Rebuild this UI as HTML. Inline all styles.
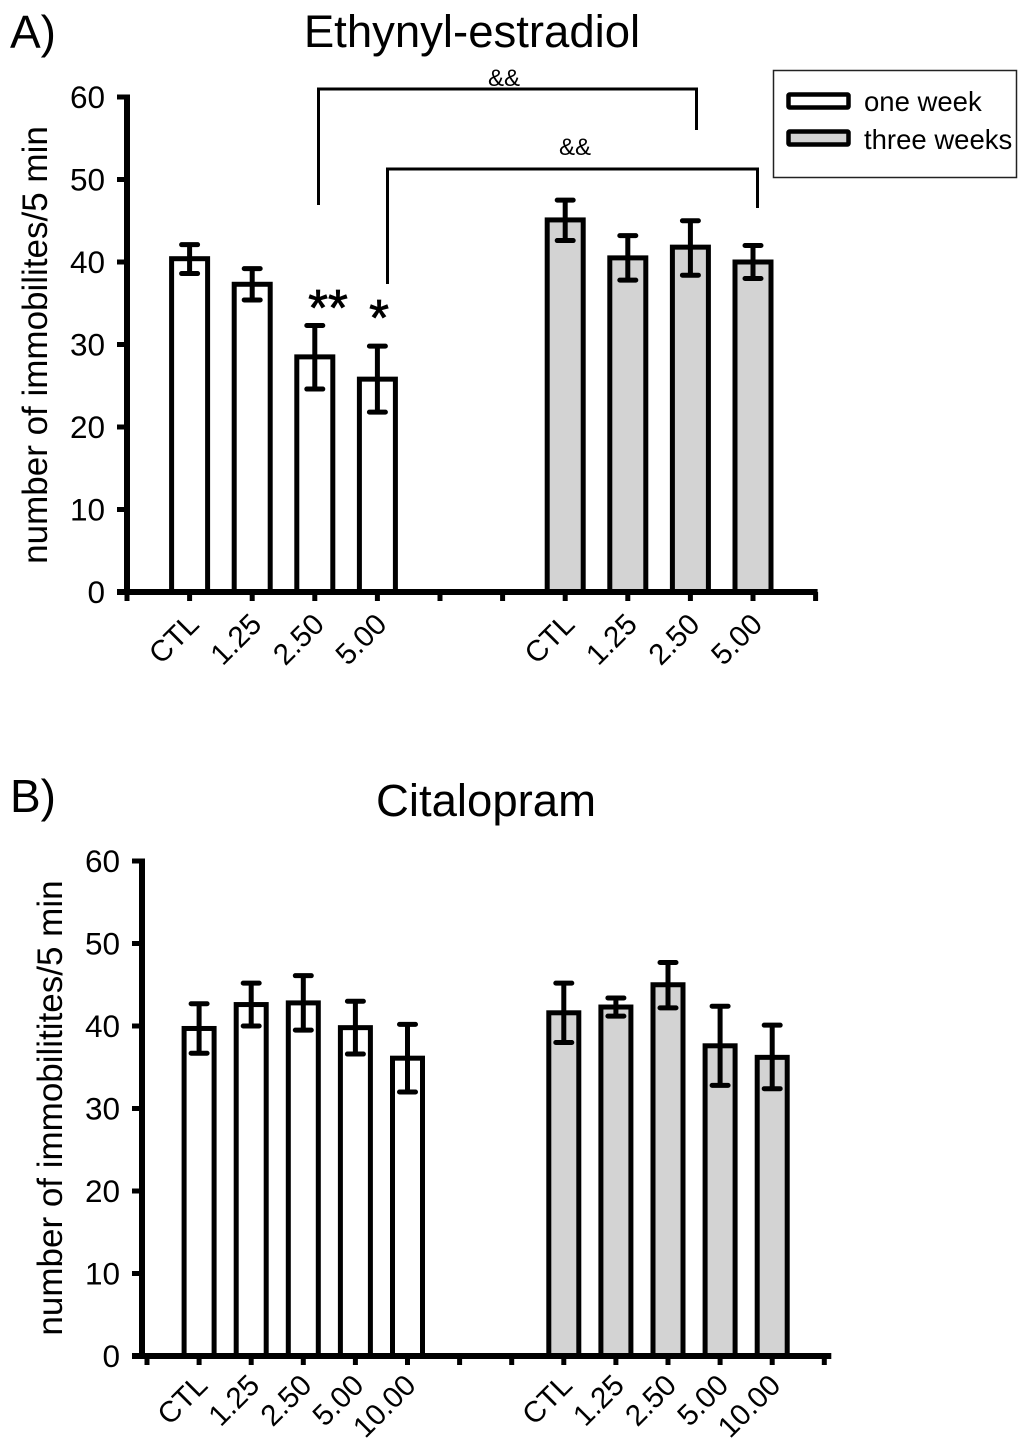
<!DOCTYPE html>
<html lang="en">
<head>
<meta charset="utf-8">
<title>Ethynyl-estradiol and Citalopram immobility charts</title>
<style>
html,body{margin:0;padding:0;background:#fff;}
svg{display:block;font-family:"Liberation Sans",sans-serif;fill:#000;}
</style>
</head>
<body>
<svg id="figure" width="1024" height="1443" viewBox="0 0 1024 1443" xmlns="http://www.w3.org/2000/svg">
<rect width="1024" height="1443" fill="#fff"/>
<g>
<rect x="773.5" y="70.5" width="243" height="107" fill="#fff" stroke="#222" stroke-width="1.5"/>
<rect x="788.5" y="94.5" width="60" height="13" fill="#fff" stroke="#000" stroke-width="4.5" rx="1"/>
<text x="864" y="111" font-size="27.5">one week</text>
<rect x="788.5" y="131.5" width="60" height="13" fill="#d3d3d3" stroke="#000" stroke-width="4.5" rx="1"/>
<text x="864" y="149" font-size="27.5">three weeks</text>
</g>
</svg>
<script>
var yTicks = [0, 10, 20, 30, 40, 50, 60];

var labelsA = ['CTL', '1.25', '2.50', '5.00'];
var oneWeekA = [40.4, 37.3, 28.5, 25.8];
var oneWeekUpperA = [42.1, 39.2, 32.3, 29.8];
var oneWeekLowerA = [38.6, 35.4, 24.6, 21.8];
var threeWeeksA = [45.1, 40.5, 41.8, 40.0];
var threeWeeksUpperA = [47.5, 43.2, 45.0, 42.0];
var threeWeeksLowerA = [42.6, 37.8, 38.4, 38.0];

var labelsB = ['CTL', '1.25', '2.50', '5.00', '10.00'];
var oneWeekB = [39.7, 42.6, 42.8, 39.8, 36.1];
var oneWeekUpperB = [42.7, 45.2, 46.1, 43.0, 40.2];
var oneWeekLowerB = [36.7, 40.0, 39.5, 36.6, 32.0];
var threeWeeksB = [41.6, 42.3, 45.0, 37.6, 36.2];
var threeWeeksUpperB = [45.2, 43.4, 47.7, 42.4, 40.1];
var threeWeeksLowerB = [38.0, 41.2, 42.2, 32.8, 32.4];

var NS = 'http://www.w3.org/2000/svg';
var root = document.getElementById('figure');

function add(parent, tag, attrs, text) {
  var el = document.createElementNS(NS, tag);
  for (var k in attrs) el.setAttribute(k, attrs[k]);
  if (text !== undefined) el.textContent = text;
  parent.appendChild(el);
  return el;
}

function drawPanel(cfg) {
  var g = add(root, 'g', {});
  
  

  function yScale(v) { return cfg.y0 + (cfg.y60 - cfg.y0) * v / 60; }
  function xTick(i) { return cfg.xStart + cfg.xStep * i; }

  function drawGroup(values, upper, lower, labels, startSlot, fill, series) {
    values.forEach(function (v, i) {
      var x = xTick(startSlot + i);
      var hw = cfg.barWidth / 2;
      var bar = add(g, 'rect', {
        x: x - hw + 2.5, y: yScale(v),
        width: cfg.barWidth - 5, height: cfg.y0 - yScale(v),
        fill: fill, stroke: '#000', 'stroke-width': 5
      });
      
      

      var err = add(g, 'path', {
        d: 'M' + x + ' ' + yScale(upper[i]) + 'V' + yScale(lower[i]) +
           'M' + (x - 8) + ' ' + yScale(upper[i]) + 'H' + (x + 8) +
           'M' + (x - 8) + ' ' + yScale(lower[i]) + 'H' + (x + 8),
        fill: 'none', stroke: '#000', 'stroke-width': 5, 'stroke-linecap': 'round'
      });
      
      

      var lx = x + cfg.labelDx, ly = cfg.y0 + cfg.labelDy;
      var label = add(g, 'text', {
        x: lx, y: ly, 'text-anchor': 'end', 'font-size': 29.5,
        transform: 'rotate(-45 ' + lx + ' ' + ly + ')'
      }, labels[i]);
      
      
    });
  }

  drawGroup(cfg.one, cfg.oneUp, cfg.oneLow, cfg.labels, 1, '#fff', 'one-week');
  drawGroup(cfg.three, cfg.threeUp, cfg.threeLow, cfg.labels, cfg.threeStart, '#d3d3d3', 'three-weeks');

  var yAxis = add(g, 'line', {
    x1: cfg.axisX, x2: cfg.axisX, y1: yScale(60) - 2.5, y2: cfg.y0 + 2.5,
    stroke: '#000', 'stroke-width': 6
  });
  
  

  var xAxis = add(g, 'line', {
    x1: cfg.axisX - 10, x2: xTick(cfg.slots) + cfg.axisOverrun, y1: cfg.y0, y2: cfg.y0,
    stroke: '#000', 'stroke-width': 6
  });
  
  

  for (var s = 0; s <= cfg.slots; s++) {
    var t = add(g, 'line', {
      x1: xTick(s), x2: xTick(s), y1: cfg.y0, y2: cfg.y0 + 9,
      stroke: '#000', 'stroke-width': 5
    });
    
    
  }

  yTicks.forEach(function (v) {
    var tk = add(g, 'line', {
      x1: cfg.axisX - 10, x2: cfg.axisX, y1: yScale(v), y2: yScale(v),
      stroke: '#000', 'stroke-width': 5
    });
    
    
    var lab = add(g, 'text', {
      x: cfg.axisX - 22, y: yScale(v) + 11, 'text-anchor': 'end', 'font-size': 31.5
    }, String(v));
    
    
  });

  var yt = add(g, 'text', {
    x: cfg.yTitleX, y: cfg.yTitleY, 'text-anchor': 'middle', 'font-size': 35,
    transform: 'rotate(-90 ' + cfg.yTitleX + ' ' + cfg.yTitleY + ')'
  }, cfg.yTitle);
  
  

  var title = add(g, 'text', {
    x: cfg.titleX, y: cfg.titleY, 'text-anchor': 'middle', 'font-size': 45.5
  }, cfg.title);
  
  

  var letter = add(g, 'text', { x: 10, y: cfg.letterY, 'font-size': 46 }, cfg.letter);
  
  
}

drawPanel({
  name: 'panel-a', letter: 'A)', letterY: 48, title: 'Ethynyl-estradiol', titleX: 472, titleY: 47,
  yTitle: 'number of immobilites/5 min', yTitleX: 47, yTitleY: 345,
  axisX: 127, xStart: 127, xStep: 62.6, slots: 11, threeStart: 7, axisOverrun: 2,
  y0: 592, y60: 97, barWidth: 41, labelDx: 11, labelDy: 34,
  labels: labelsA,
  one: oneWeekA, oneUp: oneWeekUpperA, oneLow: oneWeekLowerA,
  three: threeWeeksA, threeUp: threeWeeksUpperA, threeLow: threeWeeksLowerA
});

drawPanel({
  name: 'panel-b', letter: 'B)', letterY: 812, title: 'Citalopram', titleX: 486, titleY: 816,
  yTitle: 'number of immobilitites/5 min', yTitleX: 62, yTitleY: 1108,
  axisX: 142, xStart: 147, xStep: 52.1, slots: 13, threeStart: 8, axisOverrun: 7,
  y0: 1356, y60: 861, barWidth: 35, labelDx: 10, labelDy: 31,
  labels: labelsB,
  one: oneWeekB, oneUp: oneWeekUpperB, oneLow: oneWeekLowerB,
  three: threeWeeksB, threeUp: threeWeeksUpperB, threeLow: threeWeeksLowerB
});

var annotations = add(root, 'g', {});



var bracket1 = add(annotations, 'path', { d: 'M318.5 205V89H696.5V130', fill: 'none', stroke: '#000', 'stroke-width': 3 });



var bracket2 = add(annotations, 'path', { d: 'M387.5 284V169H757.5V208', fill: 'none', stroke: '#000', 'stroke-width': 3 });



var amp1 = add(annotations, 'text', { x: 504, y: 86, 'text-anchor': 'middle', 'font-size': 24 }, '&&');



var amp2 = add(annotations, 'text', { x: 575, y: 155, 'text-anchor': 'middle', 'font-size': 24 }, '&&');



var star1 = add(annotations, 'text', { x: 328, y: 325, 'text-anchor': 'middle', 'font-size': 51, stroke: '#000', 'stroke-width': 0.8 }, '**');



var star2 = add(annotations, 'text', { x: 379, y: 335, 'text-anchor': 'middle', 'font-size': 51, stroke: '#000', 'stroke-width': 0.8 }, '*');


</script>
</body>
</html>
